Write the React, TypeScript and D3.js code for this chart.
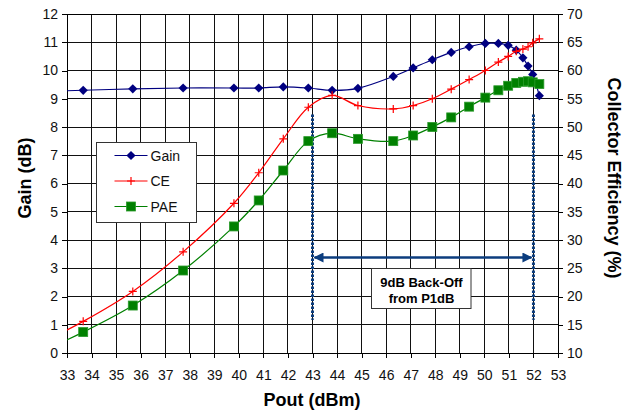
import React, { useEffect, useRef } from 'react';
import * as d3 from 'd3';

// output power (dBm); first point sits left of the axis and is clipped
const pout = [31.6, 33.66, 35.68, 37.73, 39.8, 40.81, 41.81, 42.83, 43.8, 44.85, 46.29, 47.1, 47.88, 48.65, 49.38, 50.04, 50.57, 50.97, 51.3, 51.57, 51.78, 51.97, 52.24];
const gain = [9.25, 9.3, 9.35, 9.38, 9.38, 9.38, 9.42, 9.38, 9.3, 9.37, 9.79, 10.09, 10.38, 10.64, 10.84, 10.96, 10.96, 10.89, 10.72, 10.45, 10.16, 9.86, 9.11];
const ce = [11.0, 15.6, 20.9, 27.9, 36.5, 41.9, 47.9, 53.5, 55.6, 53.8, 53.2, 53.8, 55.0, 56.7, 58.4, 60.0, 61.5, 62.5, 63.4, 63.8, 64.2, 64.9, 65.6];
const pae = [9.6, 13.7, 18.4, 24.6, 32.4, 37.0, 42.3, 47.5, 48.9, 47.9, 47.5, 48.5, 50.0, 51.7, 53.6, 55.2, 56.5, 57.3, 57.8, 58.0, 58.1, 57.9, 57.6];

const xTicks = d3.range(33, 54, 1);
const gainTicks = d3.range(0, 13, 1);
const effTicks = d3.range(10, 75, 5);

const backOff = { from: 43, to: 52, top: 8.44, bottom: 1.18, arrowY: 3.38 };
const legendItems = ['Gain', 'CE', 'PAE'];

const NAVY = '#000080';
const RED = '#ff0000';
const GREEN = '#008000';
const ANNO = '#0c3d7e';

const App = () => {
  const ref = useRef<SVGSVGElement>(null);

  useEffect(() => {
    document.body.style.margin = '0';
    const svg = d3.select(ref.current);
    svg.selectAll('*').remove();

    const W = 623;
    const H = 410;
    const m = { top: 14, right: 65, bottom: 57, left: 67 };
    const w = W - m.left - m.right;
    const h = H - m.top - m.bottom;
    const font = 'Arial, "Liberation Sans", sans-serif';

    const x = d3.scaleLinear().domain([33, 53]).range([0, w]);
    const y = d3.scaleLinear().domain([0, 12]).range([h, 0]);
    const y2 = d3.scaleLinear().domain([10, 70]).range([h, 0]);

    const defs = svg.append('defs');
    defs.append('clipPath').attr('id', 'plotClip')
      .append('rect').attr('width', w).attr('height', h);
    const mk = defs.append('marker').attr('id', 'arrowHead')
      .attr('viewBox', '0 0 10 10').attr('refX', 9).attr('refY', 5)
      .attr('markerWidth', 4).attr('markerHeight', 4)
      .attr('orient', 'auto-start-reverse');
    mk.append('path').attr('d', 'M0,0 L10,5 L0,10 Z').attr('fill', ANNO);

    const g = svg.append('g').attr('transform', `translate(${m.left},${m.top})`);

    // grid
    g.append('g').selectAll('line').data(xTicks).enter().append('line')
      .attr('x1', d => x(d)).attr('x2', d => x(d)).attr('y1', 0).attr('y2', h)
      .attr('stroke', '#111').attr('shape-rendering', 'crispEdges');
    g.append('g').selectAll('line').data(gainTicks).enter().append('line')
      .attr('y1', d => y(d)).attr('y2', d => y(d)).attr('x1', 0).attr('x2', w)
      .attr('stroke', '#111').attr('shape-rendering', 'crispEdges');
    g.append('rect').attr('width', w).attr('height', h)
      .attr('fill', 'none').attr('stroke', '#000').attr('shape-rendering', 'crispEdges');

    // axes
    const xAxis = g.append('g').attr('transform', `translate(0,${h})`)
      .call(d3.axisBottom(x).tickValues(xTicks).tickSize(5).tickPadding(12));
    const yAxis = g.append('g')
      .call(d3.axisLeft(y).tickValues(gainTicks).tickSize(5).tickPadding(4));
    const y2Axis = g.append('g').attr('transform', `translate(${w},0)`)
      .call(d3.axisRight(y2).tickValues(effTicks).tickSize(5).tickPadding(4));
    [xAxis, yAxis, y2Axis].forEach(a => {
      a.select('.domain').remove();
      a.selectAll('line').attr('stroke', '#000').attr('shape-rendering', 'crispEdges');
      a.selectAll('text').attr('font-family', font).attr('font-size', 14).attr('fill', '#111');
    });

    // axis titles
    svg.append('text').attr('x', 312).attr('y', 406).attr('text-anchor', 'middle')
      .attr('font-family', font).attr('font-size', 18).attr('font-weight', 'bold')
      .text('Pout (dBm)');
    svg.append('text').attr('transform', 'translate(31,178) rotate(-90)').attr('text-anchor', 'middle')
      .attr('font-family', font).attr('font-size', 18).attr('font-weight', 'bold')
      .text('Gain (dB)');
    svg.append('text').attr('transform', 'translate(608,178) rotate(90)').attr('text-anchor', 'middle')
      .attr('font-family', font).attr('font-size', 18).attr('font-weight', 'bold')
      .text('Collector Efficiency (%)');

    // back-off annotation
    const anno = g.append('g');
    [backOff.from, backOff.to].forEach(v => {
      anno.append('line')
        .attr('x1', x(v)).attr('x2', x(v))
        .attr('y1', y(backOff.top)).attr('y2', y(backOff.bottom))
        .attr('stroke', ANNO).attr('stroke-width', 3).attr('stroke-dasharray', '2.5,1.5');
    });
    anno.append('line')
      .attr('x1', x(backOff.from) + 2).attr('x2', x(backOff.to) - 2)
      .attr('y1', y(backOff.arrowY)).attr('y2', y(backOff.arrowY))
      .attr('stroke', ANNO).attr('stroke-width', 2.5)
      .attr('marker-start', 'url(#arrowHead)').attr('marker-end', 'url(#arrowHead)');

    const bx = 371.5 - m.left;
    const by = 268.5 - m.top;
    anno.append('rect').attr('x', bx).attr('y', by).attr('width', 99.5).attr('height', 40)
      .attr('fill', '#fff').attr('stroke', '#333');
    anno.append('text').attr('x', bx + 50).attr('y', by + 18).attr('text-anchor', 'middle')
      .attr('font-family', font).attr('font-size', 13).attr('font-weight', 'bold')
      .text('9dB Back-Off');
    anno.append('text').attr('x', bx + 50).attr('y', by + 34).attr('text-anchor', 'middle')
      .attr('font-family', font).attr('font-size', 13).attr('font-weight', 'bold')
      .text('from P1dB');

    // series
    const plot = g.append('g').attr('clip-path', 'url(#plotClip)');
    const series = [
      { name: 'Gain', vals: gain, sc: y, color: NAVY },
      { name: 'CE', vals: ce, sc: y2, color: RED },
      { name: 'PAE', vals: pae, sc: y2, color: GREEN },
    ];
    const drawMarker = (sel, name, color) => {
      if (name === 'Gain') {
        sel.append('path').attr('d', 'M0,-4.6L4.6,0L0,4.6L-4.6,0Z').attr('fill', color);
      } else if (name === 'CE') {
        sel.append('path').attr('d', 'M-4,0H4M0,-4V4').attr('stroke', color).attr('stroke-width', 1.2);
      } else {
        sel.append('rect').attr('x', -4.5).attr('y', -4.5).attr('width', 9).attr('height', 9)
          .attr('fill', color).attr('stroke', '#2a9a2a').attr('stroke-width', 0.8);
      }
    };
    series.forEach(s => {
      const pts = pout.map((p, i) => [p, s.vals[i]]);
      const line = d3.line().curve(d3.curveCatmullRom.alpha(0.5))
        .x(d => x(d[0])).y(d => s.sc(d[1]));
      plot.append('path').datum(pts).attr('fill', 'none')
        .attr('stroke', s.color).attr('stroke-width', 1.2).attr('d', line);
      pts.filter(d => d[0] >= 33).forEach(d => {
        const mg = plot.append('g').attr('transform', `translate(${x(d[0])},${s.sc(d[1])})`);
        drawMarker(mg, s.name, s.color);
      });
    });

    // legend
    const lg = svg.append('g').attr('transform', 'translate(96.5,142.5)');
    lg.append('rect').attr('width', 100).attr('height', 80).attr('fill', '#fff').attr('stroke', '#333');
    legendItems.forEach((name, i) => {
      const s = series.find(v => v.name === name);
      const ly = 13 + i * 25.5;
      lg.append('line').attr('x1', 18).attr('x2', 51).attr('y1', ly).attr('y2', ly)
        .attr('stroke', s.color).attr('stroke-width', 1.2);
      drawMarker(lg.append('g').attr('transform', `translate(34.5,${ly})`), name, s.color);
      lg.append('text').attr('x', 54).attr('y', ly + 5).attr('font-family', font).attr('font-size', 14)
        .attr('fill', '#111').text(name);
    });
  }, []);

  return <svg ref={ref} width={623} height={410} style={{ display: 'block' }} />;
};

export default App;
